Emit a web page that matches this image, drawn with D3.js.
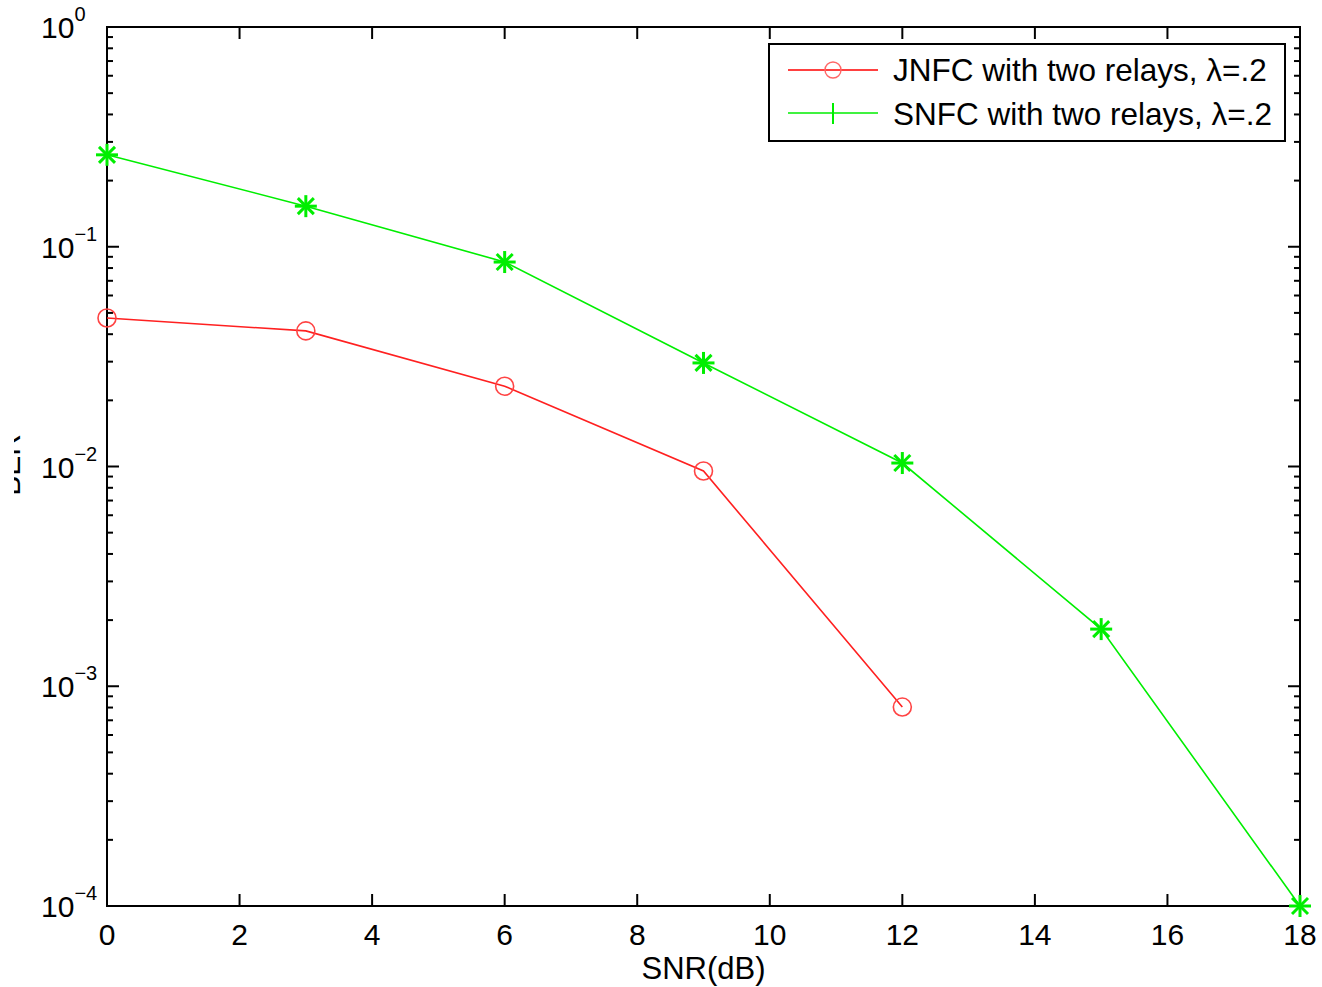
<!DOCTYPE html>
<html>
<head>
<meta charset="utf-8">
<script src="https://d3js.org/d3.v7.min.js"></script>
<style>
  body { margin: 0; background: #fff; }
  text { font-family: "Liberation Sans", Arial, sans-serif; fill: #000; }
</style>
</head>
<body>
<script>
// values
const snr = [0, 3, 6, 9, 12, 15, 18];
const jnfc = [0.0474, 0.0414, 0.0232, 0.00954, 0.000804];
const snfc = [0.262, 0.153, 0.0852, 0.0296, 0.01037, 0.00182, 0.0001];
const seriesNames = ["JNFC with two relays, \u03bb=.2", "SNFC with two relays, \u03bb=.2"];
const xTicks = [0, 2, 4, 6, 8, 10, 12, 14, 16, 18];
const yExp = [0, -1, -2, -3, -4];

const width = 1322, height = 987;
const m = {left: 107, right: 22, top: 27, bottom: 81};

const svg = d3.select("body").append("svg")
  .attr("width", width).attr("height", height);

const x = d3.scaleLinear().domain([0, 18]).range([m.left, width - m.right]);
const y = d3.scaleLog().domain([1e-4, 1]).range([height - m.bottom, m.top]);

const x0 = x.range()[0], x1 = x.range()[1];
const y0 = y.range()[0], y1 = y.range()[1];

// minor ticks for log axis
const minor = [];
for (let e = -4; e < 0; e++) {
  for (let k = 2; k <= 9; k++) minor.push(k * Math.pow(10, e));
}

const axes = svg.append("g").attr("stroke", "#000").attr("stroke-width", 2);

// x ticks bottom + top
xTicks.forEach(t => {
  axes.append("line").attr("x1", x(t)).attr("x2", x(t)).attr("y1", y0).attr("y2", y0 - 12);
  axes.append("line").attr("x1", x(t)).attr("x2", x(t)).attr("y1", y1).attr("y2", y1 + 12);
});
// y major ticks left + right
yExp.forEach(e => {
  const v = Math.pow(10, e);
  axes.append("line").attr("x1", x0).attr("x2", x0 + 12).attr("y1", y(v)).attr("y2", y(v));
  axes.append("line").attr("x1", x1).attr("x2", x1 - 12).attr("y1", y(v)).attr("y2", y(v));
});
minor.forEach(v => {
  axes.append("line").attr("x1", x0).attr("x2", x0 + 6).attr("y1", y(v)).attr("y2", y(v));
  axes.append("line").attr("x1", x1).attr("x2", x1 - 6).attr("y1", y(v)).attr("y2", y(v));
});
axes.append("rect")
  .attr("x", x0).attr("y", y1).attr("width", x1 - x0).attr("height", y0 - y1)
  .attr("fill", "none");

// x tick labels
svg.append("g").selectAll("text").data(xTicks).join("text")
  .attr("x", d => x(d)).attr("y", y0 + 39)
  .attr("text-anchor", "middle").attr("font-size", 30)
  .text(d => d);

// y tick labels 10^e
const yl = svg.append("g").selectAll("text").data(yExp).join("text")
  .attr("x", 41).attr("y", d => y(Math.pow(10, d)) + 11)
  .attr("font-size", 30);
yl.append("tspan").text("10");
yl.append("tspan").attr("font-size", 20).attr("dy", -17).text(d => d === 0 ? "0" : "\u2212" + (-d));

// axis titles
svg.append("text").attr("x", (x0 + x1) / 2).attr("y", 979)
  .attr("text-anchor", "middle").attr("font-size", 31).text("SNR(dB)");

// y title is cut by the left edge of the picture
svg.append("clipPath").attr("id", "ycut").append("rect")
  .attr("x", 14).attr("y", 0).attr("width", 40).attr("height", height);
svg.append("g").attr("clip-path", "url(#ycut)").append("text")
  .attr("transform", "translate(20,465) rotate(-90)")
  .attr("text-anchor", "middle").attr("font-size", 30).text("BER");

// lines
const line = d3.line().x(d => x(d[0])).y(d => y(d[1]));
const jData = jnfc.map((v, i) => [snr[i], v]);
const sData = snfc.map((v, i) => [snr[i], v]);

svg.append("path").datum(jData).attr("d", line)
  .attr("fill", "none").attr("stroke", "#ff2020").attr("stroke-width", 1.6);
svg.append("path").datum(sData).attr("d", line)
  .attr("fill", "none").attr("stroke", "#00ee00").attr("stroke-width", 1.6);

function circleMark(g, cx, cy) {
  g.append("circle").attr("cx", cx).attr("cy", cy).attr("r", 9)
    .attr("fill", "none").attr("stroke", "#ff4444").attr("stroke-width", 1.6);
}
function starMark(g, cx, cy) {
  const r = 11, d = 8;
  const s = g.append("g").attr("stroke", "#00ee00").attr("stroke-width", 3);
  s.append("line").attr("x1", cx - r).attr("x2", cx + r).attr("y1", cy).attr("y2", cy);
  s.append("line").attr("x1", cx).attr("x2", cx).attr("y1", cy - r).attr("y2", cy + r);
  s.append("line").attr("x1", cx - d).attr("x2", cx + d).attr("y1", cy - d).attr("y2", cy + d);
  s.append("line").attr("x1", cx - d).attr("x2", cx + d).attr("y1", cy + d).attr("y2", cy - d);
}

const marks = svg.append("g");
jData.forEach(d => circleMark(marks, x(d[0]), y(d[1])));
sData.forEach(d => starMark(marks, x(d[0]), y(d[1])));

// legend
const lg = svg.append("g");
lg.append("rect").attr("x", 769).attr("y", 44).attr("width", 516).attr("height", 97)
  .attr("fill", "#fff").attr("stroke", "#000").attr("stroke-width", 2);
lg.append("line").attr("x1", 788).attr("x2", 878).attr("y1", 70).attr("y2", 70)
  .attr("stroke", "#ff0000").attr("stroke-width", 1.6);
lg.append("circle").attr("cx", 833).attr("cy", 70).attr("r", 8)
  .attr("fill", "none").attr("stroke", "#ff6666").attr("stroke-width", 1.4);
lg.append("line").attr("x1", 788).attr("x2", 878).attr("y1", 113).attr("y2", 113)
  .attr("stroke", "#00ee00").attr("stroke-width", 1.6);
lg.append("line").attr("x1", 833).attr("x2", 833).attr("y1", 103).attr("y2", 124)
  .attr("stroke", "#00ee00").attr("stroke-width", 2);
lg.selectAll("text.lbl").data(seriesNames).join("text").attr("class", "lbl")
  .attr("x", 893).attr("y", (d, i) => 81 + i * 44)
  .attr("font-size", 31.5).text(d => d);
</script>
</body>
</html>
